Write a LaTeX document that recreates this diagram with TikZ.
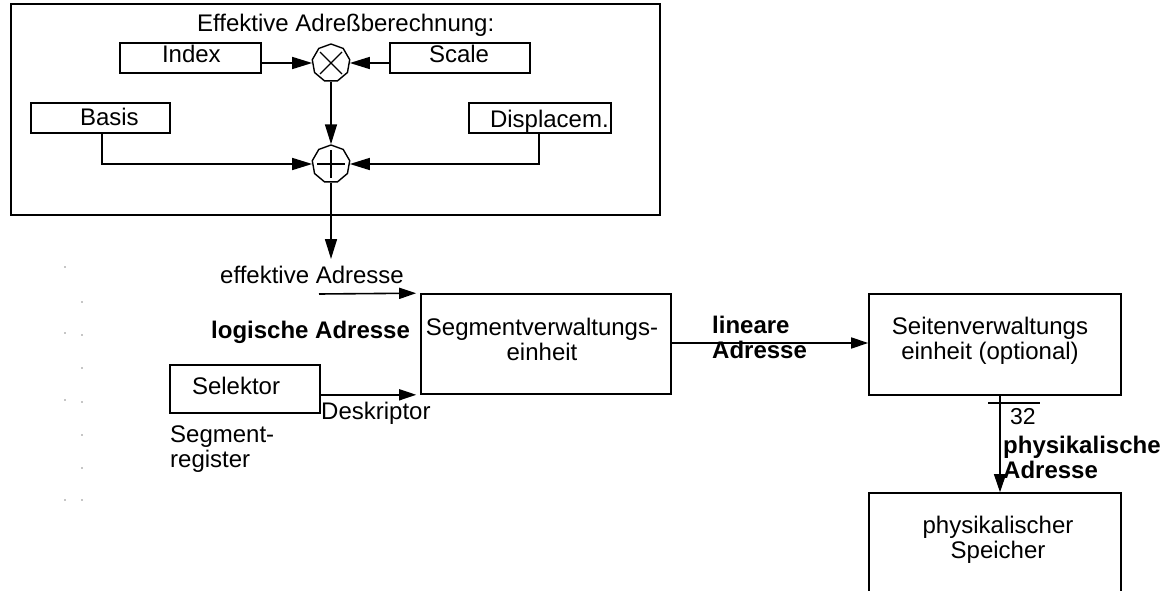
\documentclass[tikz,border=0pt]{standalone}
\usepackage{fontspec}
\setmainfont{Liberation Sans}
\usetikzlibrary{arrows.meta,shapes.geometric}
\tikzset{
  txt/.style={font=\fontsize{24}{25.5}\selectfont, inner sep=0pt},
  btxt/.style={font=\fontsize{24}{25.5}\selectfont\bfseries, inner sep=0pt},
  smallbox/.style={draw, line width=1.6pt, inner xsep=0pt, inner ysep=0pt, align=left,
    font=\fontsize{24}{25.5}\selectfont, minimum height=30pt},
  bigbox/.style={draw, line width=1.6pt, inner sep=0pt},
  opnode/.style={draw, line width=1.4pt, regular polygon, regular polygon sides=9,
    minimum size=38pt, inner sep=0pt},
  conn/.style={line width=1.6pt},
  arr/.style={line width=1.6pt, -{Triangle[length=20pt,width=12pt]}},
  arrs/.style={line width=1.6pt, -{Triangle[length=17pt,width=11pt]}},
  speck/.style={fill=black!45}
}
\begin{document}
\begin{tikzpicture}[x=1pt,y=-1pt]
\useasboundingbox (0,0) rectangle (1165,591);
\clip (0,0) rectangle (1165,591);
\fill[white] (0,0) rectangle (1165,591);

% outer frame of the effective address computation
\draw[line width=2pt] (11,4) rectangle (660,215);
\node[txt, anchor=base west] (title) at (197,32) {Effektive Adreßberechnung:};

% small boxes
\node[smallbox, text width=141pt, text height=17pt, text depth=7pt] (idx) at (190.5,58) {\hspace*{42pt}Index};
\node[smallbox, text width=140pt, text height=17pt, text depth=7pt] (scl) at (460,58) {\hspace*{39pt}Scale};
\node[smallbox, text width=139pt, text height=17pt, text depth=1pt] (bas) at (100.5,118) {\hspace*{49pt}Basis};
\node[smallbox, text width=142pt, text height=21pt, text depth=1pt] (dis) at (540,118) {\hspace*{21pt}Displacem.};

% operators
\node[opnode] (mul) at (331,63) {};
\draw[line width=1.4pt] (mul.center) +(-11,-11) -- +(11,11);
\draw[line width=1.4pt] (mul.center) +(-11,11) -- +(11,-11);
\node[opnode] (add) at (331,164) {};
\draw[line width=1.4pt] (add.center) +(-14,0) -- +(14,0);
\draw[line width=1.4pt] (add.center) +(0,-14) -- +(0,14);

\draw[arr] (idx.east |- mul.west) -- (mul.west);
\draw[arr] (scl.west |- mul.east) -- (mul.east);
\draw[arr] (mul.south) -- (add.north);
\draw[arr] (bas.south -| 102,0) |- (add.west);
\draw[arr] (dis.south -| 539,0) |- (add.east);

% effective address arrow
\coordinate (eatip) at (331,259);
\draw[arr] (add.south) -- (eatip);
\node[txt, anchor=base west] (effA) at (220,283) {effektive Adresse};
\node[btxt, anchor=base west] (logA) at (211,338) {logische Adresse};

% segment unit
\node[bigbox, minimum width=250pt, minimum height=100pt] (seg) at (546,344) {};
\node[txt, anchor=north, align=center] (segtxt) at (542,317.5) {Segmentverwaltungs-\\einheit};

\coordinate (eastart) at (319,294);
\draw[arrs] (eastart) -- ([xshift=-4pt]seg.north west);

% selector
\node[smallbox, minimum height=48pt, text width=150pt, text height=17pt, text depth=7pt] (sel) at (245,389) {\hspace*{22pt}Selektor};
\draw[arrs] (sel.east |- seg.south west) -- ([xshift=-4pt]seg.south west);
\node[txt, anchor=base west] (desk) at (321,419) {Deskriptor};
\node[txt, anchor=north west, align=left] (segreg) at (170,425.5) {Segment-\\register};

% paging unit
\node[bigbox, minimum width=252pt, minimum height=101pt] (sei) at (995,344.5) {};
\node[txt, anchor=north, align=center] (seitxt) at (990,316.5) {Seitenverwaltungs\\einheit (optional)};
\draw[arrs] (seg.east |- 0,343) -- (sei.west |- 0,343);
\node[btxt, anchor=north west, align=left] (lin) at (712,315.5) {lineare\\Adresse};

% physical memory
\node[bigbox, minimum width=252pt, minimum height=160pt] (spe) at (995,573) {};
\node[txt, anchor=north, align=center] (spetxt) at (998,515.5) {physikalischer\\Speicher};
\draw[line width=1.2pt, -{Triangle[length=18pt,width=12pt]}] ([xshift=5pt]sei.south) -- ([xshift=5pt]spe.north);
\draw[line width=1.2pt] (988,403) -- (1040,403);
\node[anchor=base west, inner sep=0pt, font=\fontsize{23}{24}\selectfont] (bits) at (1010,424) {32};
\node[btxt, anchor=north west, align=left] (phys) at (1003,435.5) {physikalische\\Adresse};

% stray specks at the left edge
\foreach \p in {(65,267),(82,302),(65,333),(82,335),(82,368),(65,400),(82,402),(82,435),(82,468),(65,500),(82,500)}
  \fill[speck] \p circle (0.8);
\end{tikzpicture}
\end{document}
